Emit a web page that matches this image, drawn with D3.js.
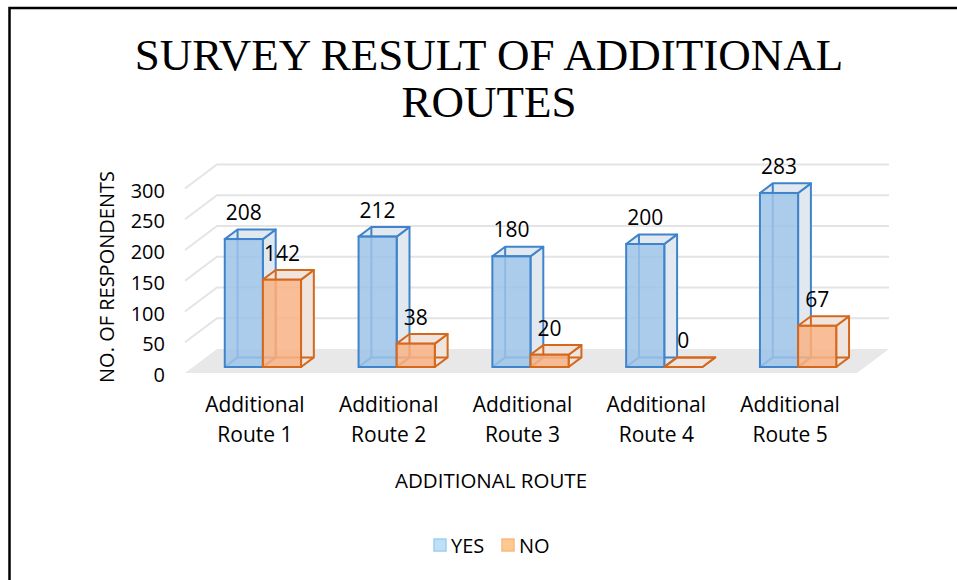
<!DOCTYPE html>
<html lang="en">
<head>
  <meta charset="utf-8">
  <title>Survey Result of Additional Routes</title>
  <script src="https://d3js.org/d3.v7.min.js"></script>
  <style>
    body { margin: 0; background: #fff; }
    text { font-family: "Open Sans", sans-serif; fill: #000; }
    .title { font-family: "Liberation Serif", "Times New Roman", serif; font-size: 45px; }
  </style>
</head>
<body>
  <div id="chart"></div>
  <script>
    var categories = ["Additional Route 1", "Additional Route 2", "Additional Route 3", "Additional Route 4", "Additional Route 5"];
    var seriesNames = ["YES", "NO"];
    var yesValues = [208, 212, 180, 200, 283];
    var noValues = [142, 38, 20, 0, 67];
    var yTicks = [0, 50, 100, 150, 200, 250, 300];

    var width = 957, height = 580;
    var svg = d3.select("#chart").append("svg")
      .attr("width", width)
      .attr("height", height);

    // outer frame (cut off at right and bottom)
    svg.append("rect")
      .attr("x", 9.5).attr("y", 8)
      .attr("width", 1000).attr("height", 1000)
      .attr("fill", "none").attr("stroke", "#000").attr("stroke-width", 2.5);

    // title
    svg.append("text").attr("class", "title")
      .attr("x", 489).attr("y", 70).attr("text-anchor", "middle")
      .text("SURVEY RESULT OF ADDITIONAL");
    svg.append("text").attr("class", "title")
      .attr("x", 489).attr("y", 117).attr("text-anchor", "middle")
      .text("ROUTES");

    // pseudo 3d setup
    var base = 373;           // floor front edge
    var depth = [32, -24];    // floor depth vector
    var zFront = 0.25, zBack = 0.65;

    var x = d3.scaleBand().domain(categories)
      .range([188, 857]).paddingInner(0.43).paddingOuter(0.215);
    var x1 = d3.scaleBand().domain(seriesNames).range([0, x.bandwidth()]);
    var h = d3.scaleLinear().domain([0, 300]).range([0, 184.5]);

    var colors = {
      YES: { fill: "#9dc3e9", stroke: "#3f84cb", face: "#e2e8ef" },
      NO:  { fill: "#f8b385", stroke: "#d4691d", face: "#efe4de" }
    };

    var x0 = x.range()[0] - 3, xEnd = x.range()[1];

    // floor
    svg.append("polygon")
      .attr("points", [[x0, base], [xEnd, base], [xEnd + depth[0], base + depth[1]], [x0 + depth[0], base + depth[1]]].join(" "))
      .attr("fill", "#e8e8e8");

    // gridlines: left wall diagonal + back wall
    svg.append("g").selectAll("polyline")
      .data(yTicks.slice(1))
      .join("polyline")
      .attr("points", d => [[x0, base - h(d)], [x0 + depth[0], base + depth[1] - h(d)], [xEnd + depth[0], base + depth[1] - h(d)]].join(" "))
      .attr("fill", "none")
      .attr("stroke", "#e4e4e4")
      .attr("stroke-width", 2);

    // y tick labels
    svg.append("g").selectAll("text")
      .data(yTicks)
      .join("text")
      .attr("x", 165)
      .attr("y", d => base - h(d) + 9)
      .attr("text-anchor", "end")
      .style("font-size", "20px")
      .text(d => d);

    // bars
    var data = [];
    categories.forEach((c, i) => {
      data.push({ cat: c, key: "YES", value: yesValues[i] });
      data.push({ cat: c, key: "NO", value: noValues[i] });
    });

    var fx = depth[0] * zFront, fy = depth[1] * zFront;
    var bx = depth[0] * zBack, by = depth[1] * zBack;

    svg.append("g").selectAll("g")
      .data(data)
      .join("g")
      .each(function(d) {
        var g = d3.select(this);
        var c = colors[d.key];
        var l = x(d.cat) + x1(d.key), r = l + x1.bandwidth();
        var hh = h(d.value);
        var fl = l + fx, fr = r + fx, fb = base + fy, ft = fb - hh;
        var bl = l + bx, br = r + bx, bb = base + by, bt = bb - hh;
        var sw = 2;
        // right side face
        g.append("polygon")
          .attr("points", [[fr, fb], [br, bb], [br, bt], [fr, ft]].join(" "))
          .attr("fill", c.face).attr("stroke", c.stroke).attr("stroke-width", sw)
          .attr("stroke-linejoin", "round");
        // top face
        g.append("polygon")
          .attr("points", [[fl, ft], [bl, bt], [br, bt], [fr, ft]].join(" "))
          .attr("fill", c.face).attr("stroke", c.stroke).attr("stroke-width", sw)
          .attr("stroke-linejoin", "round");
        // hidden edges seen through the box
        g.append("path")
          .attr("d", "M" + [fl, fb] + "L" + [bl, bb] + "L" + [bl, bt] + "M" + [bl, bb] + "L" + [br, bb])
          .attr("fill", "none").attr("stroke", c.stroke).attr("stroke-width", sw);
        // front face
        g.append("rect")
          .attr("x", fl).attr("y", ft)
          .attr("width", r - l).attr("height", hh)
          .attr("fill", c.fill).attr("fill-opacity", 0.85)
          .attr("stroke", c.stroke).attr("stroke-width", sw);
      });

    // value labels
    svg.append("g").selectAll("text")
      .data(data)
      .join("text")
      .attr("x", d => x(d.cat) + x1(d.key) + x1.bandwidth() / 2 + fx)
      .attr("y", d => base + fy - h(d.value) - 19)
      .attr("text-anchor", "middle")
      .style("font-size", "21px")
      .text(d => d.value);

    // category labels
    var catG = svg.append("g").selectAll("text")
      .data(categories)
      .join("text")
      .attr("text-anchor", "middle")
      .style("font-size", "21px");
    catG.append("tspan")
      .attr("x", d => x(d) + x.bandwidth() / 2)
      .attr("y", 412)
      .text(d => d.split(" ")[0]);
    catG.append("tspan")
      .attr("x", d => x(d) + x.bandwidth() / 2)
      .attr("y", 442)
      .text(d => d.split(" ").slice(1).join(" "));

    // axis titles
    svg.append("text")
      .attr("x", 491).attr("y", 488)
      .attr("text-anchor", "middle")
      .style("font-size", "20.5px")
      .text("ADDITIONAL ROUTE");
    svg.append("text")
      .attr("transform", "translate(114,277) rotate(-90)")
      .attr("text-anchor", "middle")
      .style("font-size", "20px")
      .text("NO. OF RESPONDENTS");

    // legend
    var legendColors = { YES: ["#bfe1f8", "#9dcff1"], NO: ["#fdc993", "#f9b982"] };
    var legendX = [434, 502];
    var legend = svg.append("g").selectAll("g")
      .data(seriesNames)
      .join("g")
      .attr("transform", (d, i) => "translate(" + legendX[i] + ",539)");
    legend.append("rect")
      .attr("width", 12).attr("height", 12)
      .attr("fill", d => legendColors[d][0])
      .attr("stroke", d => legendColors[d][1]).attr("stroke-width", 1.5);
    legend.append("text")
      .attr("x", 17).attr("y", 13.5)
      .style("font-size", "20px")
      .text(d => d);
  </script>
</body>
</html>
